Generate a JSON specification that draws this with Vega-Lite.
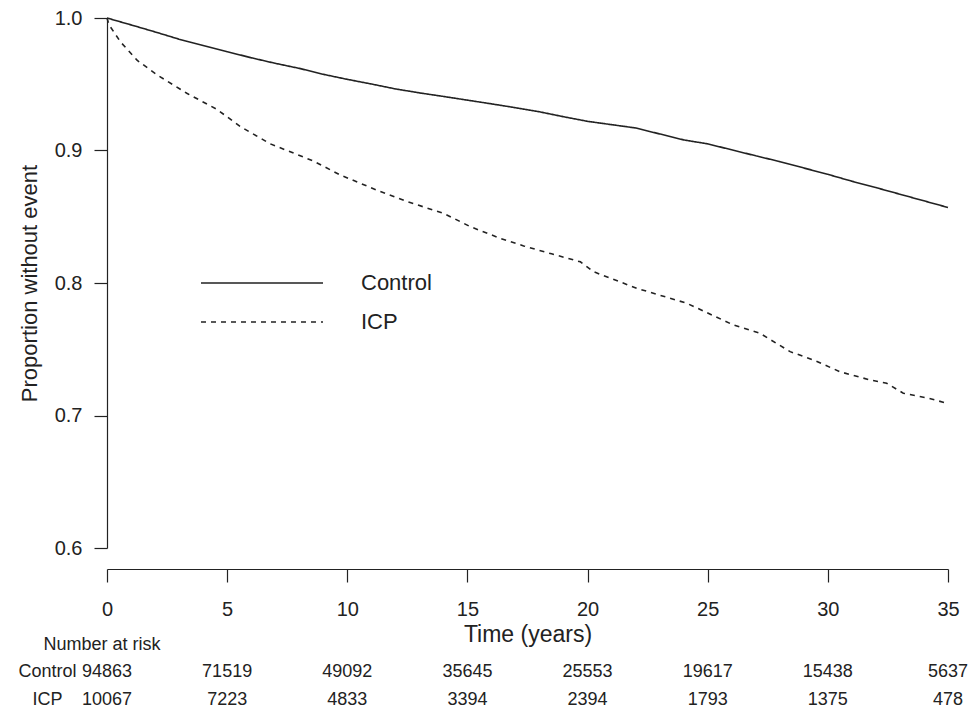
{
  "$schema": "https://vega.github.io/schema/vega-lite/v6.json",
  "padding": {"left": 17, "top": 8, "right": 5, "bottom": 0},
  "background": "white",
  "datasets": {
    "curves": [
      {"group": "Control", "time": 0, "surv": 1.0},
      {"group": "Control", "time": 1, "surv": 0.9948},
      {"group": "Control", "time": 2, "surv": 0.9895},
      {"group": "Control", "time": 3, "surv": 0.984},
      {"group": "Control", "time": 4, "surv": 0.9792},
      {"group": "Control", "time": 5, "surv": 0.9746},
      {"group": "Control", "time": 6, "surv": 0.970},
      {"group": "Control", "time": 7, "surv": 0.9658},
      {"group": "Control", "time": 8, "surv": 0.962},
      {"group": "Control", "time": 9, "surv": 0.9575},
      {"group": "Control", "time": 10, "surv": 0.9537},
      {"group": "Control", "time": 11, "surv": 0.9502},
      {"group": "Control", "time": 12, "surv": 0.9465},
      {"group": "Control", "time": 13, "surv": 0.9435},
      {"group": "Control", "time": 14, "surv": 0.9408},
      {"group": "Control", "time": 15, "surv": 0.938},
      {"group": "Control", "time": 16, "surv": 0.9352},
      {"group": "Control", "time": 17, "surv": 0.9323},
      {"group": "Control", "time": 18, "surv": 0.9292},
      {"group": "Control", "time": 19, "surv": 0.9255},
      {"group": "Control", "time": 20, "surv": 0.922},
      {"group": "Control", "time": 21, "surv": 0.9195},
      {"group": "Control", "time": 22, "surv": 0.917},
      {"group": "Control", "time": 23, "surv": 0.9125},
      {"group": "Control", "time": 24, "surv": 0.908},
      {"group": "Control", "time": 25, "surv": 0.905},
      {"group": "Control", "time": 26, "surv": 0.9005},
      {"group": "Control", "time": 27, "surv": 0.896},
      {"group": "Control", "time": 28, "surv": 0.8916},
      {"group": "Control", "time": 29, "surv": 0.8868},
      {"group": "Control", "time": 30, "surv": 0.882},
      {"group": "Control", "time": 31, "surv": 0.8768},
      {"group": "Control", "time": 32, "surv": 0.872},
      {"group": "Control", "time": 33, "surv": 0.867},
      {"group": "Control", "time": 34, "surv": 0.862},
      {"group": "Control", "time": 35, "surv": 0.857},
      {"group": "ICP", "time": 0, "surv": 1.0},
      {"group": "ICP", "time": 0.08, "surv": 0.995},
      {"group": "ICP", "time": 0.56, "surv": 0.982},
      {"group": "ICP", "time": 1.26, "surv": 0.968},
      {"group": "ICP", "time": 2.09, "surv": 0.957},
      {"group": "ICP", "time": 3.34, "surv": 0.943},
      {"group": "ICP", "time": 4.58, "surv": 0.931},
      {"group": "ICP", "time": 5.55, "surv": 0.918},
      {"group": "ICP", "time": 6.8, "surv": 0.905},
      {"group": "ICP", "time": 8.6, "surv": 0.892},
      {"group": "ICP", "time": 9.71, "surv": 0.8815},
      {"group": "ICP", "time": 11.24, "surv": 0.870},
      {"group": "ICP", "time": 12.49, "surv": 0.8614},
      {"group": "ICP", "time": 14.01, "surv": 0.8526},
      {"group": "ICP", "time": 15.12, "surv": 0.8425},
      {"group": "ICP", "time": 16.37, "surv": 0.8337},
      {"group": "ICP", "time": 17.34, "surv": 0.828},
      {"group": "ICP", "time": 18.5, "surv": 0.822},
      {"group": "ICP", "time": 19.7, "surv": 0.816},
      {"group": "ICP", "time": 20.25, "surv": 0.8085},
      {"group": "ICP", "time": 22.05, "surv": 0.796},
      {"group": "ICP", "time": 24.13, "surv": 0.7847},
      {"group": "ICP", "time": 26.07, "surv": 0.7683},
      {"group": "ICP", "time": 27.18, "surv": 0.762},
      {"group": "ICP", "time": 28.43, "surv": 0.7482},
      {"group": "ICP", "time": 29.4, "surv": 0.7419},
      {"group": "ICP", "time": 30.51, "surv": 0.733},
      {"group": "ICP", "time": 31.76, "surv": 0.7268},
      {"group": "ICP", "time": 32.45, "surv": 0.7243},
      {"group": "ICP", "time": 33.14, "surv": 0.7168},
      {"group": "ICP", "time": 34.2, "surv": 0.713},
      {"group": "ICP", "time": 35, "surv": 0.709}
    ],
    "risk": [
      {"group": "Control", "time": 0, "n": 94863},
      {"group": "Control", "time": 5, "n": 71519},
      {"group": "Control", "time": 10, "n": 49092},
      {"group": "Control", "time": 15, "n": 35645},
      {"group": "Control", "time": 20, "n": 25553},
      {"group": "Control", "time": 25, "n": 19617},
      {"group": "Control", "time": 30, "n": 15438},
      {"group": "Control", "time": 35, "n": 5637},
      {"group": "ICP", "time": 0, "n": 10067},
      {"group": "ICP", "time": 5, "n": 7223},
      {"group": "ICP", "time": 10, "n": 4833},
      {"group": "ICP", "time": 15, "n": 3394},
      {"group": "ICP", "time": 20, "n": 2394},
      {"group": "ICP", "time": 25, "n": 1793},
      {"group": "ICP", "time": 30, "n": 1375},
      {"group": "ICP", "time": 35, "n": 478}
    ]
  },
  "vconcat": [
    {
      "width": 841,
      "height": 530,
      "data": {"name": "curves"},
      "mark": {"type": "line", "strokeWidth": 1.6, "color": "#222222"},
      "encoding": {
        "x": {
          "field": "time", "type": "quantitative",
          "scale": {"domain": [0, 35], "nice": false, "zero": false},
          "axis": {
            "values": [0, 5, 10, 15, 20, 25, 30, 35],
            "offset": 21, "tickSize": 13, "labelPadding": 17, "labelFontSize": 20,
            "title": "Time (years)", "titleFontSize": 23, "titlePadding": 4,
            "grid": false, "labelFlush": false
          }
        },
        "y": {
          "field": "surv", "type": "quantitative",
          "scale": {"domain": [0.6, 1.0], "nice": false, "zero": false},
          "axis": {
            "values": [0.6, 0.7, 0.8, 0.9, 1.0], "format": ".1f",
            "tickSize": 13, "labelPadding": 12, "labelFontSize": 20,
            "title": "Proportion without event", "titleFontSize": 22, "titlePadding": 13,
            "grid": false
          }
        },
        "strokeDash": {
          "field": "group", "type": "nominal",
          "scale": {"domain": ["Control", "ICP"], "range": [[1, 0], [5, 5]]},
          "legend": {
            "orient": "none", "legendX": 93, "legendY": 246.5, "title": null,
            "symbolType": "stroke", "symbolSize": 14884, "symbolStrokeWidth": 1.6,
            "symbolStrokeColor": "#222222", "labelFontSize": 22, "labelOffset": 37,
            "clipHeight": 37, "rowPadding": 2, "padding": 0, "offset": 0
          }
        }
      }
    },
    {
      "width": 841,
      "height": 56,
      "data": {"name": "risk"},
      "title": {
        "text": "Number at risk", "anchor": "start", "frame": "group", "dx": -63.5, "fontSize": 18,
        "fontWeight": "normal", "color": "#222222", "offset": 4
      },
      "mark": {"type": "text", "fontSize": 18, "color": "#222222"},
      "encoding": {
        "x": {
          "field": "time", "type": "quantitative",
          "scale": {"domain": [0, 35], "nice": false, "zero": false},
          "axis": null
        },
        "y": {
          "field": "group", "type": "nominal",
          "scale": {"domain": ["Control", "ICP"], "type": "band", "paddingInner": 0, "paddingOuter": 0},
          "axis": {
            "domain": false, "ticks": false, "labelFontSize": 18, "labelAlign": "center",
            "labelPadding": 60, "title": null
          }
        },
        "text": {"field": "n", "type": "quantitative", "format": "d"}
      }
    }
  ],
  "spacing": -10,
  "resolve": {"scale": {"strokeDash": "independent"}, "legend": {"strokeDash": "independent"}},
  "config": {
    "font": "Liberation Sans",
    "view": {"stroke": null},
    "axis": {
      "labelFont": "Liberation Sans", "titleFont": "Liberation Sans",
      "labelColor": "#222222", "titleColor": "#222222",
      "domainColor": "#222222", "tickColor": "#222222",
      "titleFontWeight": "normal", "domainWidth": 1.2, "tickWidth": 1.2
    },
    "legend": {"labelFont": "Liberation Sans", "labelColor": "#222222"},
    "title": {"font": "Liberation Sans"},
    "text": {"font": "Liberation Sans"}
  }
}
